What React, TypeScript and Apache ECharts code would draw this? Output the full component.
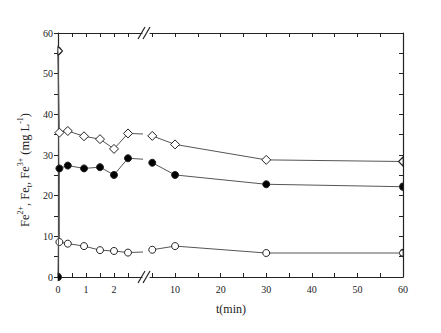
import React, { useEffect, useRef } from "react";
import * as echarts from "echarts";

const times = [0, 0.05, 0.35, 0.93, 1.5, 2, 2.5, 5, 10, 30, 60];
const feTotal = [55.6, 35.5, 35.9, 34.6, 33.9, 31.5, 35.3, 34.7, 32.6, 28.8, 28.4];
const fe3 = [0, 26.7, 27.4, 26.7, 27.0, 25.1, 29.2, 28.1, 25.1, 22.8, 22.2];
const fe2 = [55.6, 8.6, 8.2, 7.6, 6.6, 6.4, 6.0, 6.7, 7.6, 5.9, 5.9];

const leftLabels = [0, 1, 2];
const leftTicks = [0, 0.5, 1, 1.5, 2, 2.5];
const rightLabels = [10, 20, 30, 40, 50, 60];
const rightTicks = [5, 10, 15, 20, 25, 30, 35, 40, 45, 50, 55, 60];

const FONT = "Liberation Serif";
const AX = "#222";

const HALF = {
  diamond: { right: "path://M0,0L1,1L0,2Z", left: "path://M1,0L0,1L1,2Z" },
  circle: { right: "path://M0,0A1,1 0 0 1 0,2Z", left: "path://M1,0A1,1 0 0 0 1,2Z" },
};

export default function App() {
  const ref = useRef<HTMLDivElement>(null);
  useEffect(() => {
    if (!ref.current) return;
    const chart = echarts.init(ref.current, undefined, { renderer: "svg" });
    const lineStyle = { color: "#555", width: 1 };
    const mk = (
      name: string,
      vals: number[],
      xi: number,
      yi: number,
      symbol: "diamond" | "circle",
      size: number,
      fill: string,
      z: number,
      edgeMin: number,
      edgeMax: number
    ) => ({
      name,
      type: "line",
      xAxisIndex: xi,
      yAxisIndex: yi,
      data: times.map((t, i) => {
        if (t === edgeMin) {
          return { value: [t, vals[i]], symbol: HALF[symbol].right, symbolSize: [size / 2, size], symbolOffset: [size / 4, 0] };
        }
        if (t === edgeMax) {
          return { value: [t, vals[i]], symbol: HALF[symbol].left, symbolSize: [size / 2, size], symbolOffset: [-size / 4, 0] };
        }
        return [t, vals[i]];
      }),
      symbol,
      symbolSize: size,
      showAllSymbol: true,
      clip: true,
      lineStyle,
      itemStyle: { color: fill, borderColor: "#222", borderWidth: 1 },
      z,
    });
    const xBase = (grid: number, pos: string, min: number, max: number, labels: number[], ticks: number[], showLabel: boolean) => ({
      type: "value",
      gridIndex: grid,
      position: pos,
      min,
      max,
      axisLine: { show: true, onZero: false, lineStyle: { color: AX, width: 1.2 } },
      axisTick: { show: true, inside: true, length: 4, customValues: ticks, lineStyle: { color: AX } },
      axisLabel: {
        show: showLabel,
        customValues: labels,
        color: "#222",
        fontFamily: FONT,
        fontSize: 10,
        margin: 7,
      },
      splitLine: { show: false },
    });
    chart.setOption({
      animation: false,
      backgroundColor: "#fff",
      grid: [
        { left: 58, top: 33, width: 84, height: 244 },
        { left: 150, top: 33, width: 253, height: 244 },
      ],
      xAxis: [
        xBase(0, "bottom", 0, 3, leftLabels, leftTicks, true),
        xBase(0, "top", 0, 3, leftLabels, leftTicks, false),
        xBase(1, "bottom", 4.5, 60, rightLabels, rightTicks, true),
        xBase(1, "top", 4.5, 60, rightLabels, rightTicks, false),
      ],
      yAxis: [
        {
          type: "value",
          gridIndex: 0,
          position: "left",
          min: 0,
          max: 60,
          interval: 10,
          axisLine: { show: true, lineStyle: { color: AX, width: 1.2 } },
          axisTick: { show: true, inside: false, length: 4, lineStyle: { color: AX } },
          minorTick: { show: true, splitNumber: 2, length: 4, lineStyle: { color: AX } },
          axisLabel: { color: "#222", fontFamily: FONT, fontSize: 10, margin: 5 },
          splitLine: { show: false },
          minorSplitLine: { show: false },
        },
        {
          type: "value",
          gridIndex: 1,
          position: "right",
          min: 0,
          max: 60,
          interval: 5,
          axisLine: { show: true, lineStyle: { color: AX, width: 1.2 } },
          axisTick: { show: true, inside: true, length: 4, lineStyle: { color: AX } },
          axisLabel: { show: false },
          splitLine: { show: false },
        },
      ],
      series: [
        mk("Fe2+", fe2, 0, 0, "circle", 7, "#fff", 3, 0, -1),
        mk("Fe3+", fe3, 0, 0, "circle", 7, "#000", 4, 0, -1),
        mk("Fet", feTotal, 0, 0, "diamond", 9, "#fff", 5, 0, -1),
        mk("Fe2+ b", fe2, 2, 1, "circle", 7, "#fff", 3, -1, 60),
        mk("Fe3+ b", fe3, 2, 1, "circle", 7, "#000", 4, -1, 60),
        mk("Fet b", feTotal, 2, 1, "diamond", 9, "#fff", 5, -1, 60),
      ],
      graphic: [
        { type: "line", shape: { x1: 138, y1: 283, x2: 145, y2: 271 }, style: { stroke: AX, lineWidth: 1.2 } },
        { type: "line", shape: { x1: 143, y1: 283, x2: 150, y2: 271 }, style: { stroke: AX, lineWidth: 1.2 } },
        { type: "line", shape: { x1: 138, y1: 39, x2: 145, y2: 27 }, style: { stroke: AX, lineWidth: 1.2 } },
        { type: "line", shape: { x1: 143, y1: 39, x2: 150, y2: 27 }, style: { stroke: AX, lineWidth: 1.2 } },
        {
          type: "text",
          x: 231,
          y: 309,
          style: { text: "t(min)", fontFamily: FONT, fontSize: 12, fill: "#222", align: "center", verticalAlign: "middle" },
        },
        {
          type: "text",
          x: 25,
          y: 170,
          rotation: Math.PI / 2,
          style: {
            text: "Fe{sup|2+}, Fe{sub|t}, Fe{sup|3+} (mg L{sup|-1})",
            fontFamily: FONT,
            fontSize: 12.5,
            fill: "#222",
            align: "center",
            verticalAlign: "middle",
            rich: {
              sup: { fontSize: 8, fontFamily: FONT, fill: "#222", verticalAlign: "top", lineHeight: 17 },
              sub: { fontSize: 8, fontFamily: FONT, fill: "#222", verticalAlign: "bottom", lineHeight: 17 },
            },
          },
        },
      ],
    });
    return () => chart.dispose();
  }, []);
  return <div ref={ref} style={{ width: 441, height: 333, position: "absolute", left: 0, top: 0 }} />;
}
